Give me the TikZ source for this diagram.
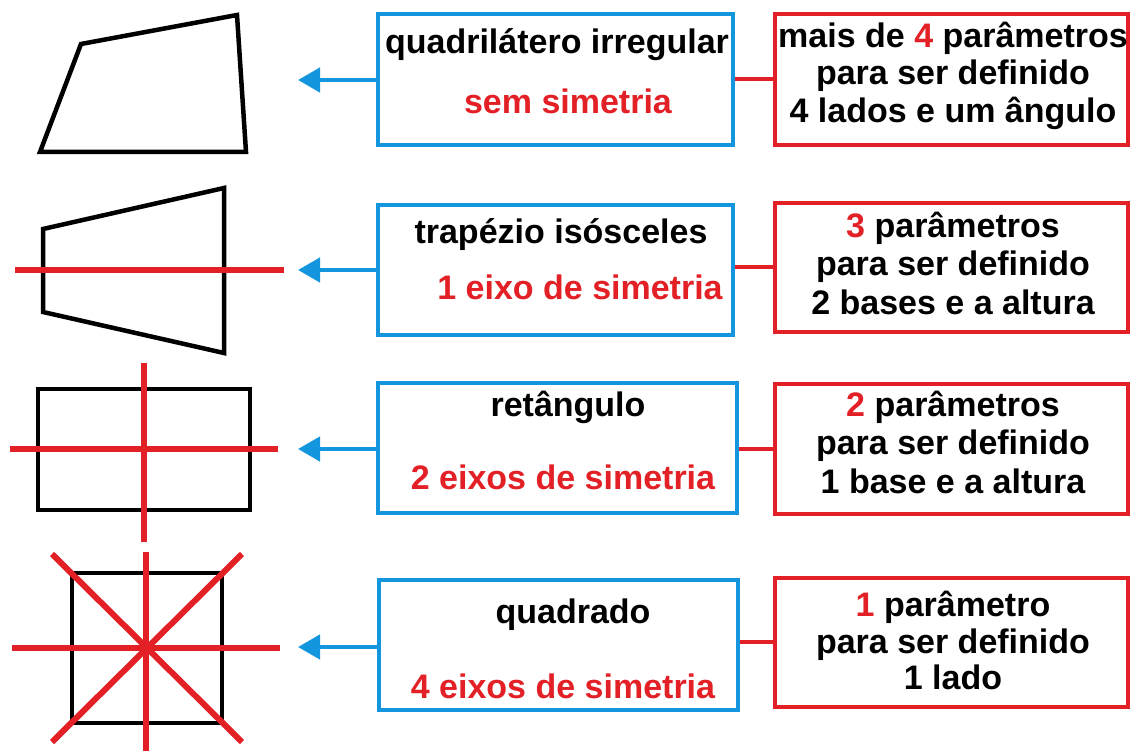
\documentclass[tikz,border=0pt]{standalone}
\usepackage{fontspec}
\setmainfont{Liberation Sans}
\usetikzlibrary{arrows.meta}
\definecolor{cblue}{RGB}{20,150,222}
\definecolor{cred}{RGB}{226,32,38}
\begin{document}
\begin{tikzpicture}[x=1pt,y=-1pt,
  txt/.style={anchor=base,inner sep=0pt,font=\fontsize{34}{38}\selectfont\bfseries},
  bluebox/.style={draw=cblue,line width=4.5pt,inner sep=0pt},
  redbox/.style={draw=cred,line width=4.5pt,inner sep=0pt},
  figline/.style={draw=black,line width=4.5pt,line join=miter},
  axis/.style={draw=cred,line width=6pt},
  link/.style={draw=cred,line width=4pt},
  pointer/.style={draw=cblue,line width=4.5pt,-{Triangle[length=22pt,width=24pt]}}]
\useasboundingbox (0,0) rectangle (1132,751);
\fill[white] (0,0) rectangle (1132,751);

% boxes
\node[bluebox,minimum width=355pt,minimum height=131pt] (b1) at (555.5,79.5) {};
\node[redbox,minimum width=353pt,minimum height=131pt] (r1) at (951.5,79.5) {};
\node[bluebox,minimum width=355pt,minimum height=130pt] (b2) at (555.5,270) {};
\node[redbox,minimum width=353pt,minimum height=129pt] (r2) at (951.5,267.5) {};
\node[bluebox,minimum width=359pt,minimum height=130pt] (b3) at (557.5,448) {};
\node[redbox,minimum width=353pt,minimum height=130pt] (r3) at (951.5,449) {};
\node[bluebox,minimum width=359pt,minimum height=130pt] (b4) at (558.5,645) {};
\node[redbox,minimum width=353pt,minimum height=129pt] (r4) at (951.5,642.5) {};

% blue box texts
\node[txt] (t1a) at (557,54) {quadrilátero irregular};
\node[txt,text=cred] (t1b) at (568,114) {sem simetria};
\node[txt] (t2a) at (561,244) {trapézio isósceles};
\node[txt,text=cred] (t2b) at (580,299) {1 eixo de simetria};
\node[txt] (t3a) at (568,416) {retângulo};
\node[txt,text=cred] (t3b) at (563,489) {2 eixos de simetria};
\node[txt] (t4a) at (573,623) {quadrado};
\node[txt,text=cred] (t4b) at (563,698) {4 eixos de simetria};

% red box texts
\node[txt] (p1a) at (953,48) {mais de \textcolor{cred}{4} parâmetros};
\node[txt] (p1b) at (953,85) {para ser definido};
\node[txt] (p1c) at (953,123) {4 lados e um ângulo};
\node[txt] (p2a) at (953,238) {\textcolor{cred}{3} parâmetros};
\node[txt] (p2b) at (953,276) {para ser definido};
\node[txt] (p2c) at (953,314) {2 bases e a altura};
\node[txt] (p3a) at (953,416) {\textcolor{cred}{2} parâmetros};
\node[txt] (p3b) at (953,454) {para ser definido};
\node[txt] (p3c) at (953,493) {1 base e a altura};
\node[txt] (p4a) at (953,616) {\textcolor{cred}{1} parâmetro};
\node[txt] (p4b) at (953,653) {para ser definido};
\node[txt] (p4c) at (953,689) {1 lado};

% links between boxes
\draw[link] (b1.east |- 0,79) -- (r1.west |- 0,79);
\draw[link] (b2.east |- 0,267) -- (r2.west |- 0,267);
\draw[link] (b3.east |- 0,449) -- (r3.west |- 0,449);
\draw[link] (b4.east |- 0,642) -- (r4.west |- 0,642);

% arrow targets
\coordinate (a1) at (298,80);
\coordinate (a2) at (298,270);
\coordinate (a3) at (298,449);
\coordinate (a4) at (298,647);
\draw[pointer] (b1.west |- a1) -- (a1);
\draw[pointer] (b2.west |- a2) -- (a2);
\draw[pointer] (b3.west |- a3) -- (a3);
\draw[pointer] (b4.west |- a4) -- (a4);

% shapes
\draw[figline] (81,44) -- (237,15) -- (246,152) -- (40,152) -- cycle;

\draw[figline] (43,229) -- (224,188) -- (224,353) -- (43,312) -- cycle;
\draw[axis] (15,270) -- (284,270);

\draw[figline] (38,389) rectangle (250,510);
\draw[axis] (10,449) -- (278,449);
\draw[axis] (144,363) -- (144,542);

\draw[figline] (72,573) rectangle (222,723);
\draw[axis] (12,648) -- (280,648);
\draw[axis] (146,552) -- (146,751);
\draw[axis] (52,554) -- (242,742);
\draw[axis] (242,554) -- (52,742);
\end{tikzpicture}
\end{document}
